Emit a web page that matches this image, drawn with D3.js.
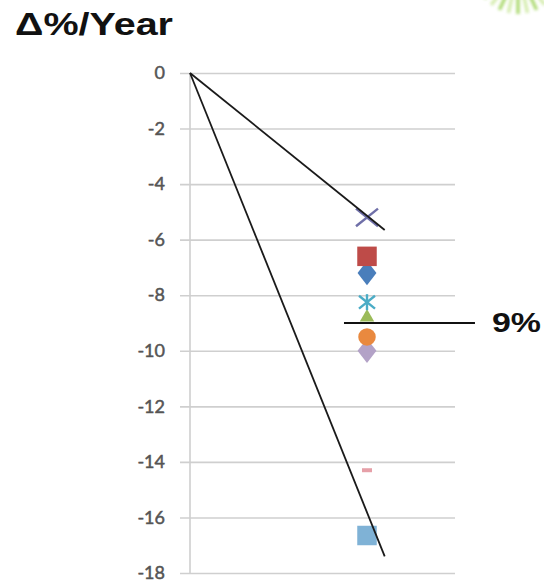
<!DOCTYPE html>
<html>
<head>
<meta charset="utf-8">
<script src="https://cdn.jsdelivr.net/npm/d3@7"></script>
<style>
  html, body { margin: 0; padding: 0; background: #fff; }
  svg { display: block; }
</style>
</head>
<body>
<svg id="chart" width="544" height="588"></svg>
<script>
// Annual change per item (Δ% per year), all plotted at the same x position
const yTicks = [0, -2, -4, -6, -8, -10, -12, -14, -16, -18];
const markerNames  = ["lavender", "orange", "green", "aqua", "blue", "red", "slate", "pink", "lightblue"];
const markerValues = [-10.0, -9.5, -8.8, -8.25, -7.2, -6.6, -5.2, -14.3, -16.65];
const markerShapes = ["diamond", "circle", "triangle", "asterisk", "diamond", "square", "cross", "dash", "square"];
const markerColors = ["#b3a2c7", "#e9893f", "#9bbb59", "#4bacc6", "#4a7ebb", "#be4b48", "#6f6fa8", "#e6a0a8", "#7fb2d6"];

// Two trend lines from the origin, and the 9% reference level
const trendEndX = 1.1;
const trendEndValues = [-5.65, -17.4];
const refLevel = -9;
const refLabel = "9%";
const refSpan = [0.87, 1.61];

const svg = d3.select("#chart");

const x = d3.scaleLinear().domain([0, 1]).range([190, 367]);
const y = d3.scaleLinear().domain([-18, 0]).range([573, 73]);

// soft green rays in the top-right corner
const defs = svg.append("defs");
defs.append("filter").attr("id", "soft")
  .append("feGaussianBlur").attr("stdDeviation", 1.4);
const rays = svg.append("g").attr("filter", "url(#soft)").attr("opacity", 0.85);
d3.range(-50, 51, 12.5).forEach((a, i) => {
  const r = a * Math.PI / 180;
  rays.append("line")
    .attr("x1", 518 + Math.sin(r) * 12).attr("y1", -30 + Math.cos(r) * 12)
    .attr("x2", 518 + Math.sin(r) * 44).attr("y2", -30 + Math.cos(r) * 44)
    .attr("stroke", i % 2 === 0 ? "#9fd45a" : "#cde9a0")
    .attr("stroke-width", 3.5);
});

// Title
svg.append("text")
  .attr("x", 15).attr("y", 35)
  .attr("font-family", "Liberation Sans, Arial, sans-serif")
  .attr("font-weight", "bold")
  .attr("font-size", 31)
  .attr("textLength", 158)
  .attr("lengthAdjust", "spacingAndGlyphs")
  .attr("fill", "#111")
  .text("Δ%/Year");

// Y axis: gridlines spanning the plot, labels to the left
const axis = d3.axisLeft(y)
  .tickValues(yTicks)
  .tickSizeInner(275)
  .tickSizeOuter(0)
  .tickPadding(15)
  .tickFormat(d3.format("d"));

const gAxis = svg.append("g")
  .attr("transform", "translate(455,0)")
  .call(axis);
gAxis.select(".domain").remove();
gAxis.selectAll(".tick line")
  .attr("stroke", "#cfcfcf")
  .attr("stroke-width", 1.6);
gAxis.selectAll(".tick text")
  .attr("font-family", "Lato, Carlito, sans-serif")
  .attr("font-size", 18)
  .attr("fill", "#555")
  .attr("stroke", "#555")
  .attr("stroke-width", 0.5)
  .text(d => d === 0 ? "0" : "-" + Math.abs(d));

// vertical axis line
svg.append("line")
  .attr("x1", x(0)).attr("x2", x(0))
  .attr("y1", y(0)).attr("y2", y(-18))
  .attr("stroke", "#cfcfcf")
  .attr("stroke-width", 1.6);

// Markers
const symSize = {
  diamond: 170, circle: 240, triangle: 90, square: 380, asterisk: 150, cross: 220, dash: 0
};
const markerX = x(1);
const gMarks = svg.append("g");
markerValues.forEach((v, i) => {
  const shape = markerShapes[i];
  const col = markerColors[i];
  const cy = y(v);
  if (shape === "dash") {
    gMarks.append("rect")
      .attr("x", markerX - 5).attr("y", cy - 2)
      .attr("width", 10).attr("height", 4)
      .attr("fill", col);
  } else if (shape === "cross" || shape === "asterisk") {
    const s = shape === "cross" ? 11 : 8;
    const g = gMarks.append("g").attr("transform", `translate(${markerX},${cy})`)
      .attr("stroke", col).attr("stroke-width", 2.4);
    g.append("line").attr("x1", -s).attr("y1", -s * 0.8).attr("x2", s).attr("y2", s * 0.8);
    g.append("line").attr("x1", -s).attr("y1", s * 0.8).attr("x2", s).attr("y2", -s * 0.8);
    if (shape === "asterisk") {
      g.append("line").attr("x1", 0).attr("y1", -s).attr("x2", 0).attr("y2", s);
    }
  } else {
    const type = shape === "diamond" ? d3.symbolDiamond
      : shape === "circle" ? d3.symbolCircle
      : shape === "triangle" ? d3.symbolTriangle
      : d3.symbolSquare;
    gMarks.append("path")
      .attr("transform", `translate(${markerX},${cy})` + (shape === "diamond" ? " scale(1.35,1)" : ""))
      .attr("d", d3.symbol().type(type).size(symSize[shape])())
      .attr("fill", col);
  }
});

// Trend lines from the origin
trendEndValues.forEach(v => {
  svg.append("line")
    .attr("x1", x(0)).attr("y1", y(0))
    .attr("x2", x(trendEndX)).attr("y2", y(v))
    .attr("stroke", "#1a1a1a")
    .attr("stroke-width", 1.8);
});

// Reference level with label
svg.append("line")
  .attr("x1", x(refSpan[0])).attr("x2", x(refSpan[1]))
  .attr("y1", y(refLevel)).attr("y2", y(refLevel))
  .attr("stroke", "#111")
  .attr("stroke-width", 1.8);
svg.append("text")
  .attr("x", 492).attr("y", y(refLevel) + 9)
  .attr("font-family", "Liberation Sans, Arial, sans-serif")
  .attr("font-weight", "bold")
  .attr("font-size", 27)
  .attr("textLength", 49)
  .attr("lengthAdjust", "spacingAndGlyphs")
  .attr("fill", "#111")
  .text(refLabel);
</script>
</body>
</html>
